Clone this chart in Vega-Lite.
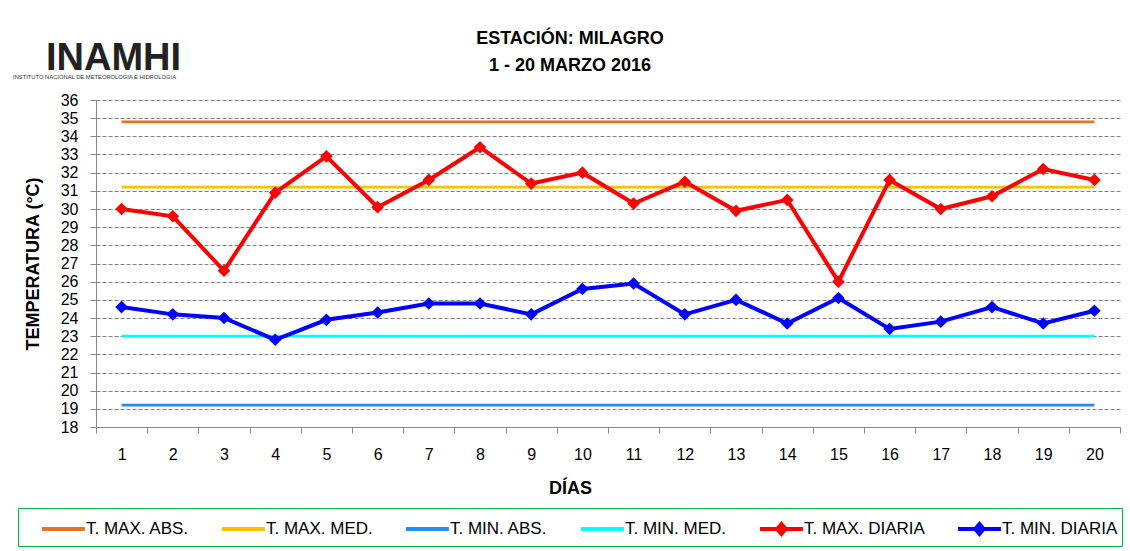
{
  "$schema": "https://vega.github.io/schema/vega-lite/v6.json",
  "width": 1024,
  "height": 327,
  "autosize": {"type": "none"},
  "padding": {"left": 96, "top": 100, "right": 10, "bottom": 124},
  "background": "white",
  "config": {
    "font": "Liberation Sans",
    "view": {"stroke": null},
    "axis": {"labelColor": "black", "titleColor": "black", "labelFont": "Liberation Sans", "titleFont": "Liberation Sans"}
  },
  "title": {
    "text": ["ESTACIÓN: MILAGRO", "1 - 20 MARZO 2016"],
    "fontSize": 18,
    "fontWeight": "bold",
    "lineHeight": 27,
    "anchor": "middle",
    "dx": -38,
    "offset": 0,
    "dy": 36,
    "color": "black"
  },
  "datasets": {
    "ref": [
      {"dia": 1, "serie": "T. MAX. ABS.", "temp": 34.8},
      {"dia": 20, "serie": "T. MAX. ABS.", "temp": 34.8},
      {"dia": 1, "serie": "T. MAX. MED.", "temp": 31.2},
      {"dia": 20, "serie": "T. MAX. MED.", "temp": 31.2},
      {"dia": 1, "serie": "T. MIN. ABS.", "temp": 19.2},
      {"dia": 20, "serie": "T. MIN. ABS.", "temp": 19.2},
      {"dia": 1, "serie": "T. MIN. MED.", "temp": 23.0},
      {"dia": 20, "serie": "T. MIN. MED.", "temp": 23.0}
    ],
    "diaria": [
      {"dia": 1, "serie": "T. MAX. DIARIA", "temp": 30.0},
      {"dia": 2, "serie": "T. MAX. DIARIA", "temp": 29.6},
      {"dia": 3, "serie": "T. MAX. DIARIA", "temp": 26.6},
      {"dia": 4, "serie": "T. MAX. DIARIA", "temp": 30.9},
      {"dia": 5, "serie": "T. MAX. DIARIA", "temp": 32.9},
      {"dia": 6, "serie": "T. MAX. DIARIA", "temp": 30.1},
      {"dia": 7, "serie": "T. MAX. DIARIA", "temp": 31.6},
      {"dia": 8, "serie": "T. MAX. DIARIA", "temp": 33.4},
      {"dia": 9, "serie": "T. MAX. DIARIA", "temp": 31.4},
      {"dia": 10, "serie": "T. MAX. DIARIA", "temp": 32.0},
      {"dia": 11, "serie": "T. MAX. DIARIA", "temp": 30.3},
      {"dia": 12, "serie": "T. MAX. DIARIA", "temp": 31.5},
      {"dia": 13, "serie": "T. MAX. DIARIA", "temp": 29.9},
      {"dia": 14, "serie": "T. MAX. DIARIA", "temp": 30.5},
      {"dia": 15, "serie": "T. MAX. DIARIA", "temp": 26.0},
      {"dia": 16, "serie": "T. MAX. DIARIA", "temp": 31.6},
      {"dia": 17, "serie": "T. MAX. DIARIA", "temp": 30.0},
      {"dia": 18, "serie": "T. MAX. DIARIA", "temp": 30.7},
      {"dia": 19, "serie": "T. MAX. DIARIA", "temp": 32.2},
      {"dia": 20, "serie": "T. MAX. DIARIA", "temp": 31.6},
      {"dia": 1, "serie": "T. MIN. DIARIA", "temp": 24.6},
      {"dia": 2, "serie": "T. MIN. DIARIA", "temp": 24.2},
      {"dia": 3, "serie": "T. MIN. DIARIA", "temp": 24.0},
      {"dia": 4, "serie": "T. MIN. DIARIA", "temp": 22.8},
      {"dia": 5, "serie": "T. MIN. DIARIA", "temp": 23.9},
      {"dia": 6, "serie": "T. MIN. DIARIA", "temp": 24.3},
      {"dia": 7, "serie": "T. MIN. DIARIA", "temp": 24.8},
      {"dia": 8, "serie": "T. MIN. DIARIA", "temp": 24.8},
      {"dia": 9, "serie": "T. MIN. DIARIA", "temp": 24.2},
      {"dia": 10, "serie": "T. MIN. DIARIA", "temp": 25.6},
      {"dia": 11, "serie": "T. MIN. DIARIA", "temp": 25.9},
      {"dia": 12, "serie": "T. MIN. DIARIA", "temp": 24.2},
      {"dia": 13, "serie": "T. MIN. DIARIA", "temp": 25.0},
      {"dia": 14, "serie": "T. MIN. DIARIA", "temp": 23.7},
      {"dia": 15, "serie": "T. MIN. DIARIA", "temp": 25.1},
      {"dia": 16, "serie": "T. MIN. DIARIA", "temp": 23.4},
      {"dia": 17, "serie": "T. MIN. DIARIA", "temp": 23.8},
      {"dia": 18, "serie": "T. MIN. DIARIA", "temp": 24.6},
      {"dia": 19, "serie": "T. MIN. DIARIA", "temp": 23.7},
      {"dia": 20, "serie": "T. MIN. DIARIA", "temp": 24.4}
    ]
  },
  "layer": [
    {
      "data": {"name": "ref"},
      "mark": {"type": "line", "strokeWidth": 2.8},
      "encoding": {
        "x": {
          "field": "dia", "type": "ordinal",
          "scale": {"type": "band", "domain": [1,2,3,4,5,6,7,8,9,10,11,12,13,14,15,16,17,18,19,20], "paddingInner": 0, "paddingOuter": 0},
          "axis": {
            "title": "DÍAS", "titleFontSize": 18, "titleFontWeight": "bold", "titlePadding": 17, "titleX": 474,
            "labelAngle": 0, "labelFontSize": 16, "labelPadding": 13,
            "tickBand": "extent", "tickSize": 6, "tickColor": "#888888", "domainColor": "#888888", "grid": false
          }
        },
        "y": {
          "field": "temp", "type": "quantitative",
          "scale": {"domain": [18, 36], "nice": false, "zero": false},
          "axis": {
            "values": [18,19,20,21,22,23,24,25,26,27,28,29,30,31,32,33,34,35,36],
            "title": "TEMPERATURA (°C)", "titleFontSize": 18, "titleFontWeight": "bold", "titlePadding": 18,
            "labelFontSize": 16, "labelPadding": 12,
            "grid": true, "gridDash": [4, 2], "gridColor": "#808080", "gridWidth": 1,
            "tickSize": 6, "tickColor": "#888888", "domainColor": "#888888"
          }
        },
        "color": {
          "field": "serie", "type": "nominal",
          "scale": {
            "domain": ["T. MAX. ABS.", "T. MAX. MED.", "T. MIN. ABS.", "T. MIN. MED.", "T. MAX. DIARIA", "T. MIN. DIARIA"],
            "range": ["#E8731E", "#FFC000", "#1E90F0", "#00FFFF", "#FF0000", "#0000FF"]
          },
          "legend": {
            "title": null, "orient": "none", "legendX": -78, "legendY": 408,
            "direction": "horizontal", "columns": 6,
            "strokeColor": "#00B050", "padding": 4,
            "symbolType": "stroke", "symbolSize": 900, "symbolStrokeWidth": 4,
            "labelFontSize": 17, "labelColor": "black", "labelOffset": 30, "columnPadding": 13,
            "labelLimit": 300,
            "encode": {
              "symbols": {
                "update": {
                  "shape": {"signal": "(datum.value === 'T. MAX. DIARIA' || datum.value === 'T. MIN. DIARIA') ? 'M0.2,0H3.06M1.35,0L1.63,-0.33L1.91,0L1.63,0.33Z' : 'M0.2,0H3.06M1.63,-0.33L1.63,-0.33M1.63,0.33L1.63,0.33'"},
                  "fill": {"scale": "color", "field": "value"},
                  "stroke": {"scale": "color", "field": "value"},
                  "size": {"value": 900},
                  "strokeWidth": {"value": 4},
                  "opacity": {"value": 1},
                  "y": {"value": 17}
                }
              },
              "labels": {
                "update": {
                  "y": {"value": 17}
                }
              }
            }
          }
        }
      }
    },
    {
      "data": {"name": "diaria"},
      "mark": {"type": "line", "strokeWidth": 4, "point": {"filled": true, "shape": "diamond", "size": 160}},
      "encoding": {
        "x": {"field": "dia", "type": "ordinal", "axis": null},
        "y": {"field": "temp", "type": "quantitative", "axis": null},
        "color": {"field": "serie", "type": "nominal"}
      }
    },
    {
      "data": {"name": "diaria"},
      "mark": {"type": "point", "opacity": 0},
      "encoding": {
        "x": {
          "field": "dia", "type": "ordinal",
          "axis": {
            "orient": "top", "labels": false, "ticks": false, "domain": false, "grid": false,
            "title": "INAMHI", "titleFontSize": 38, "titleFontWeight": "bold", "titleColor": "#222222",
            "titleX": 17, "titleY": -31, "titleAlign": "center", "titleBaseline": "alphabetic", "titleAngle": 0
          }
        },
        "y": {
          "field": "temp", "type": "quantitative",
          "axis": {
            "orient": "right", "labels": false, "ticks": false, "domain": false, "grid": false,
            "title": "INSTITUTO NACIONAL DE METEOROLOGIA E HIDROLOGIA", "titleFontSize": 5.8, "titleFontWeight": "normal", "titleColor": "#333333",
            "titleX": -1026, "titleY": -22, "titleAlign": "center", "titleBaseline": "alphabetic", "titleAngle": 0
          }
        }
      }
    }
  ],
  "resolve": {"axis": {"x": "independent", "y": "independent"}}
}
